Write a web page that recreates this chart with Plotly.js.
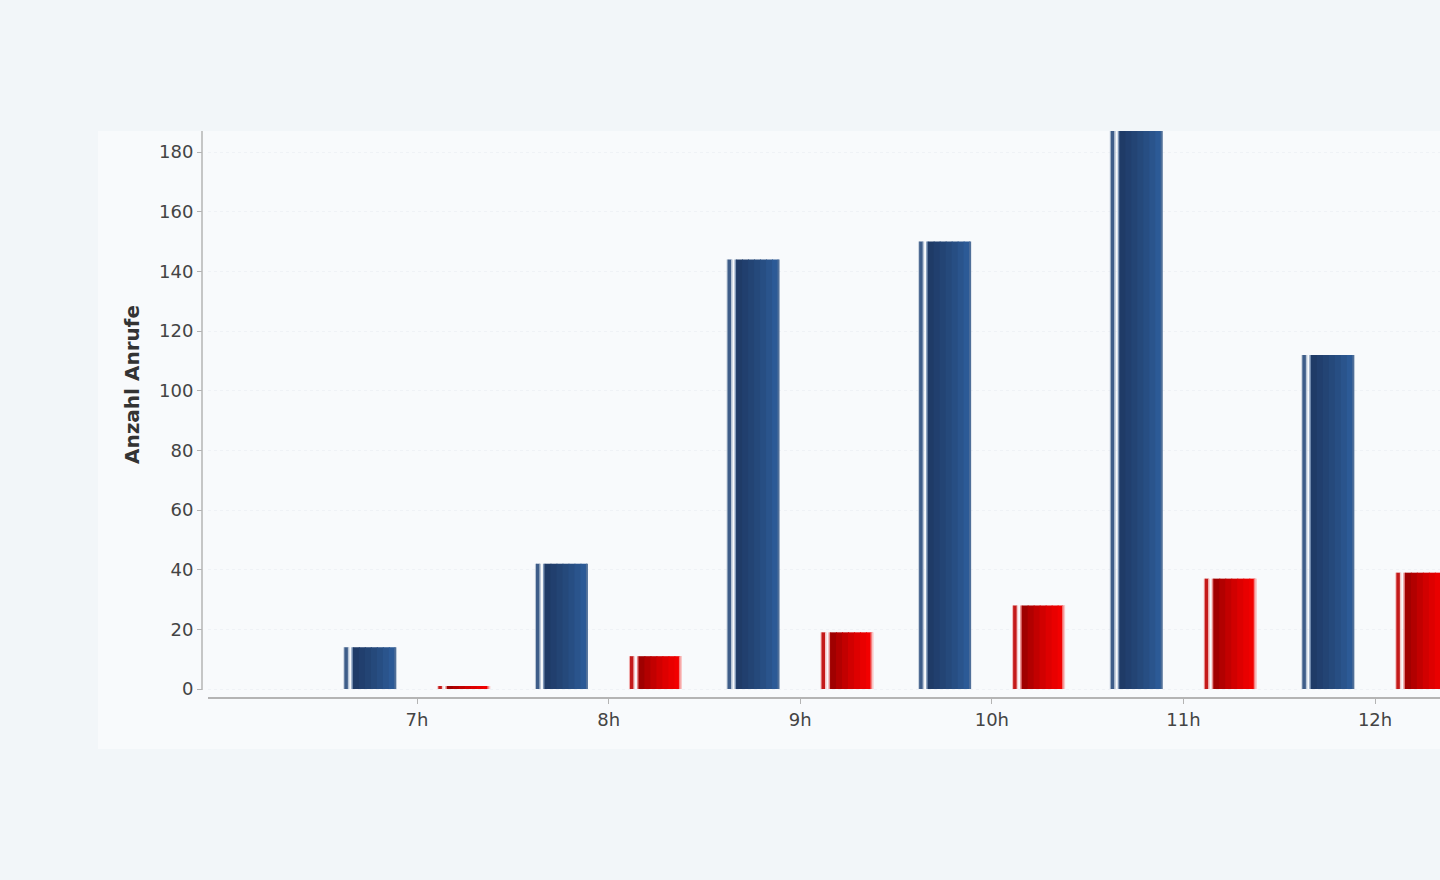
<!DOCTYPE html>
<html>
<head>
<meta charset="utf-8">
<script src="https://cdn.plot.ly/plotly-3.0.1.min.js"></script>
<style>
  html, body { margin: 0; padding: 0; background: #f2f6f9; }
  #chart { width: 1440px; height: 880px; }
</style>
</head>
<body>
<div id="chart"></div>
<script>
// Stunden und Anrufe
const stunden = ['7h', '8h', '9h', '10h', '11h', '12h'];
const anrufeBlau = [14, 42, 144, 150, 192, 112];
const anrufeRot = [1, 11, 19, 28, 37, 39];
const yTicks = [0, 20, 40, 60, 80, 100, 120, 140, 160, 180];

// pixel per category step, used to turn px widths into category units
const PX = 191.6;

// each bar is built from a few thin vertical strips to fake the shaded look
// (strips overlap a bit so no seams show between them)
const blauStreifen = [
  [0, 2, '#c3cedb'], [1, 5, '#3e5d89'], [4.5, 6, '#b7c4d5'],
  [8, 10.5, '#7f97b8'],
  [9.5, 16.5, '#1f3b67'], [15.5, 22.5, '#213f6e'], [21.5, 28.5, '#234474'],
  [27.5, 34.5, '#25497b'], [33.5, 40.5, '#274e83'], [39.5, 46.5, '#2a548c'],
  [45.5, 52, '#2c5a96'], [51, 53, '#4f6f99']
];
const rotStreifen = [
  [0, 2, '#f2b5b5'], [1, 5, '#c41a1a'], [4.5, 6, '#f5c8c8'],
  [8, 10.5, '#e88a8a'],
  [9.5, 16.5, '#a00000'], [15.5, 22.5, '#b20000'], [21.5, 28.5, '#c20000'],
  [27.5, 34.5, '#d10000'], [33.5, 40.5, '#de0000'], [39.5, 46.5, '#e90000'],
  [45.5, 51, '#f20000'], [50, 52.5, '#f48080'], [51.5, 53, '#f9c8c8']
];

function makeBars(values, leftPx, parts) {
  return parts.map(function (p) {
    return {
      type: 'bar',
      x: stunden,
      y: values,
      offset: (leftPx + p[0]) / PX,
      width: (p[1] - p[0]) / PX,
      marker: { color: p[2], line: { width: 0 } },
      showlegend: false,
      hoverinfo: 'x+y'
    };
  });
}

let traces = makeBars(anrufeBlau, -73.7, blauStreifen)
  .concat(makeBars(anrufeRot, 20.3, rotStreifen));

var layout = {
  width: 1440,
  height: 880,
  paper_bgcolor: '#f2f6f9',
  plot_bgcolor: 'rgba(0,0,0,0)',
  margin: { l: 202, r: 0, t: 131, b: 183, pad: 0 },
  barmode: 'overlay',
  font: { family: 'DejaVu Sans', size: 18, color: '#444' },
  xaxis: {
    type: 'category',
    domain: [6 / 1238, 1],
    range: [-1.091, 5.339],
    showline: true,
    linecolor: '#b4b4b4',
    linewidth: 2,
    ticks: 'outside',
    ticklen: 5,
    tickcolor: '#b4b4b4',
    showgrid: false,
    zeroline: false,
    tickfont: { family: 'DejaVu Sans', size: 18, color: '#444' }
  },
  yaxis: {
    anchor: 'free',
    position: 0,
    range: [-2.68, 187.06],
    tickvals: yTicks,
    showline: false,
    ticks: 'outside',
    ticklen: 5,
    tickcolor: '#b4b4b4',
    showgrid: true,
    gridcolor: '#eff2f6',
    griddash: 'dot',
    gridwidth: 1,
    zeroline: false,
    tickfont: { family: 'DejaVu Sans', size: 18, color: '#444' }
  },
  shapes: [
    // lighter chart panel
    {
      type: 'rect', xref: 'paper', yref: 'paper', layer: 'below',
      x0: -104 / 1238, x1: 1.01, y0: -52 / 566, y1: 1,
      fillcolor: '#f8fafc', line: { width: 0 }
    },
    // y axis line
    {
      type: 'line', xref: 'paper', yref: 'paper',
      x0: 0, x1: 0, y0: 7 / 566, y1: 1,
      line: { color: '#b4b4b4', width: 1.5 }
    }
  ],
  annotations: [
    {
      text: 'Anzahl Anrufe',
      xref: 'paper', yref: 'paper',
      x: -70 / 1238, y: 312 / 566,
      xanchor: 'center', yanchor: 'middle',
      textangle: -90,
      showarrow: false,
      font: { family: 'DejaVu Sans', size: 20, color: '#333', weight: 'bold' }
    }
  ]
};

Plotly.newPlot('chart', traces, layout, { displayModeBar: false, staticPlot: true });
</script>
</body>
</html>
